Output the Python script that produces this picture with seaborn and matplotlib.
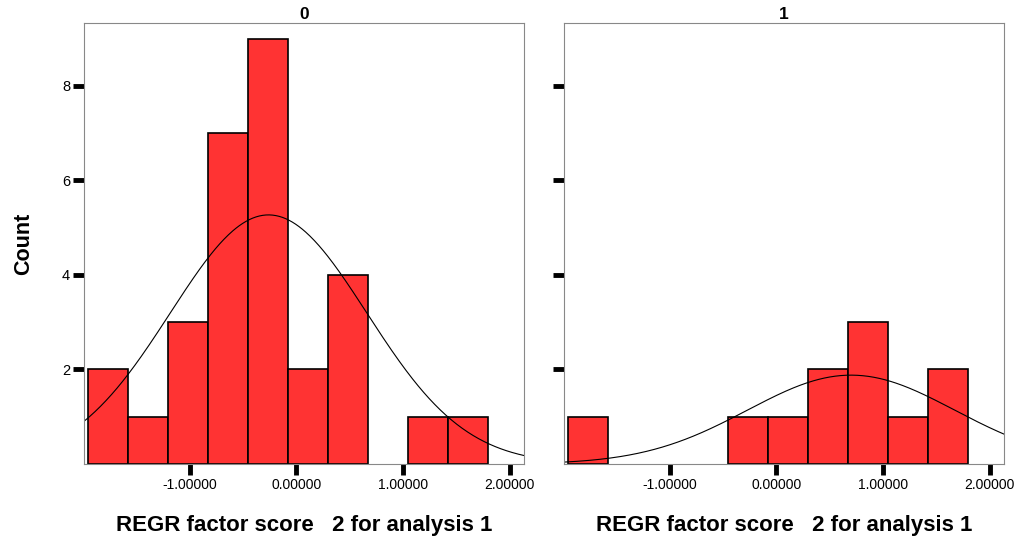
import numpy as np
import pandas as pd
import matplotlib
matplotlib.use("Agg")
import matplotlib.pyplot as plt
import seaborn as sns

# bin edges shared by both panels
bin_edges = [-1.948, -1.573, -1.204, -0.824, -0.449, -0.075, 0.300, 0.674, 1.049, 1.423, 1.798]
counts_0 = [2, 1, 3, 7, 9, 2, 4, 0, 1, 1]
counts_1 = [1, 0, 0, 0, 1, 1, 2, 3, 1, 2]

# fitted normal curves: mean, sd, peak height
curve_0 = (-0.26, 0.92, 5.27)
curve_1 = (0.70, 0.97, 1.88)

groups = ["0", "1"]
x_ticks = [-1.0, 0.0, 1.0, 2.0]
x_tick_labels = ["-1.00000", "0.00000", "1.00000", "2.00000"]
y_ticks = [2, 4, 6, 8]
x_label = "REGR factor score   2 for analysis 1"

sns.set_theme(style="white")
plt.rcParams["font.family"] = ["Liberation Sans", "DejaVu Sans"]
plt.rcParams["text.color"] = "black"
plt.rcParams["axes.labelcolor"] = "black"
plt.rcParams["xtick.color"] = "black"
plt.rcParams["ytick.color"] = "black"


def draw_panel(ax, counts, curve, title, show_ylabels):
    centers = [(a + b) / 2 for a, b in zip(bin_edges[:-1], bin_edges[1:])]
    df = pd.DataFrame({"score": centers, "n": counts})
    sns.histplot(data=df, x="score", weights="n", bins=bin_edges, ax=ax,
                 color="#ff3333", alpha=1, edgecolor="black", linewidth=1.2)
    # empty bins: no outline along the baseline
    for p in ax.patches:
        if p.get_height() == 0:
            p.set_visible(False)
    xlim = (-1.988, 2.132)
    xs = np.linspace(xlim[0], xlim[1], 400)
    mu, sd, peak = curve
    ax.plot(xs, peak * np.exp(-0.5 * ((xs - mu) / sd) ** 2), color="black", lw=0.8)
    ax.set_xlim(xlim)
    ax.set_ylim(0, 9.33)
    ax.set_xticks(x_ticks)
    ax.set_xticklabels(x_tick_labels, fontsize=10)
    ax.set_yticks(y_ticks)
    if show_ylabels:
        ax.set_yticklabels([str(v) for v in y_ticks], fontsize=10.5)
        ax.set_ylabel("Count", fontsize=15.5, fontweight="bold", labelpad=20)
    else:
        ax.set_yticklabels([])
        ax.set_ylabel("")
    ax.tick_params(axis="both", direction="out", length=8, width=3.5,
                   color="black", bottom=True, left=True, pad=2)
    ax.set_xlabel(x_label, fontsize=16, fontweight="bold", labelpad=17)
    ax.set_title(title, fontsize=12.5, fontweight="bold", pad=3)
    for s in ax.spines.values():
        s.set_color("#888888")
        s.set_linewidth(0.8)
    ax.grid(False)


fig = plt.figure(figsize=(10.24, 5.45), dpi=100)
ax0 = fig.add_axes([84 / 1024, 1 - 464 / 545, 440 / 1024, 441 / 545])
ax1 = fig.add_axes([564 / 1024, 1 - 464 / 545, 440 / 1024, 441 / 545])

draw_panel(ax0, counts_0, curve_0, groups[0], True)
draw_panel(ax1, counts_1, curve_1, groups[1], False)

fig.savefig("out.png", dpi=100, facecolor="white")
